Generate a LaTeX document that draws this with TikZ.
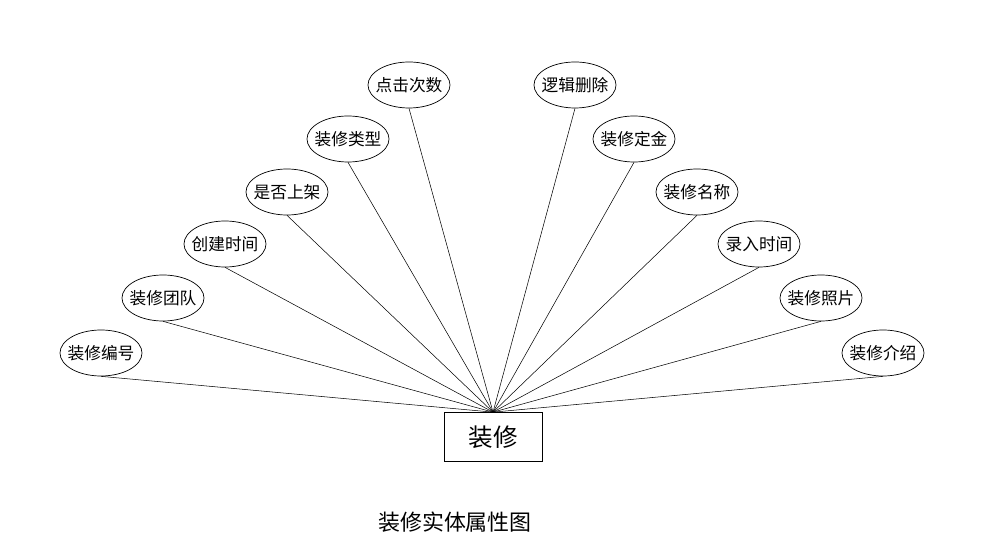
\documentclass[tikz,border=0pt]{standalone}
\usepackage{fontspec}
\usepackage{tikz}
\usetikzlibrary{shapes.geometric}
\newfontfamily\cjk{Noto Sans CJK SC}
\tikzset{
  attr/.style={ellipse, draw, minimum width=16mm, minimum height=9.2mm, inner sep=-2.5pt, font=\cjk\fontsize{9.5}{10}\selectfont},
  entity/.style={rectangle, draw, minimum width=19.6mm, minimum height=9.8mm, font=\cjk\fontsize{14}{16}\selectfont}
}
\begin{document}
\begin{tikzpicture}[x=0.2mm,y=-0.2mm]
\useasboundingbox (0,0) rectangle (1006,538);
\node[entity] (zx) at (493,437) {装修};
\coordinate (hub) at (zx.north);
\node[attr] (bh) at (101,353) {装修编号};
\node[attr] (td) at (163,298) {装修团队};
\node[attr] (cj) at (225,244) {创建时间};
\node[attr] (sj) at (287,192) {是否上架};
\node[attr] (lx) at (348,139) {装修类型};
\node[attr] (dj) at (409,85) {点击次数};
\node[attr] (sc) at (575,85) {逻辑删除};
\node[attr] (dk) at (634,139) {装修定金};
\node[attr] (mc) at (697,192) {装修名称};
\node[attr] (lr) at (759,244) {录入时间};
\node[attr] (zp) at (821,298) {装修照片};
\node[attr] (js) at (883,353) {装修介绍};
\foreach \a in {bh,td,cj,sj,lx,dj,sc,dk,mc,lr,zp,js}
    \draw[line width=0.3pt] (\a.south) -- (hub);
\node[font=\cjk\fontsize{12.5}{14}\selectfont] (cap) at (455,522) {装修实体属性图};
\end{tikzpicture}
\end{document}
